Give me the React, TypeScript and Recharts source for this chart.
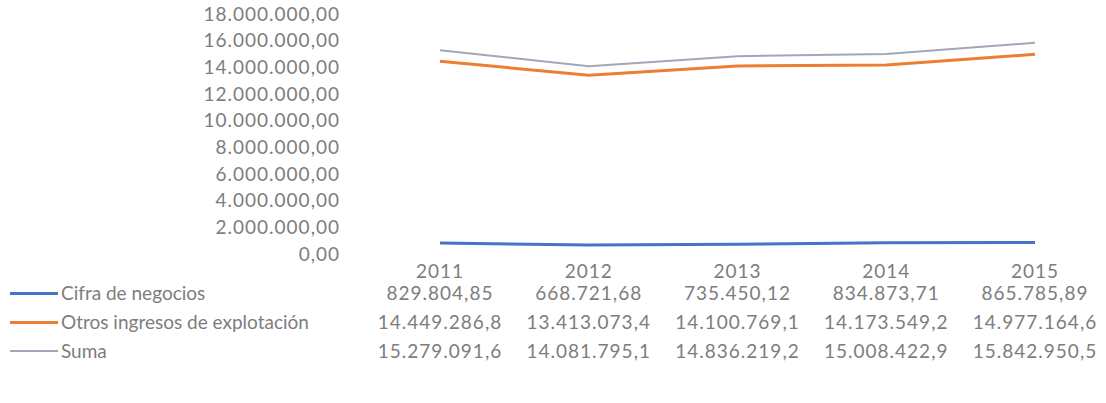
import { LineChart, Line, XAxis, YAxis } from "recharts";

const years = ["2011", "2012", "2013", "2014", "2015"];
const cifraNegocios = [829804.85, 668721.68, 735450.12, 834873.71, 865785.89];
const otrosIngresos = [14449286.8, 13413073.4, 14100769.1, 14173549.2, 14977164.6];
const suma = [15279091.6, 14081795.1, 14836219.2, 15008422.9, 15842950.5];
const yTicks = [0, 2000000, 4000000, 6000000, 8000000, 10000000, 12000000, 14000000, 16000000, 18000000];

const FONT = "Lato, 'Open Sans', sans-serif";
const TEXT = "#7d7d7d";

const series = [
  { key: "cifra", name: "Cifra de negocios", values: cifraNegocios, color: "#4472C4", width: 3, decimals: 2 },
  { key: "otros", name: "Otros ingresos de explotación", values: otrosIngresos, color: "#ED7D31", width: 3, decimals: 1 },
  { key: "suma", name: "Suma", values: suma, color: "#A5A5B8", width: 2, decimals: 1 },
];

const data = years.map((y, i) => ({
  year: y,
  cifra: cifraNegocios[i],
  otros: otrosIngresos[i],
  suma: suma[i],
}));

// spanish style number: 1.234.567,89
function fmt(v: number, decimals: number) {
  const [int, dec] = v.toFixed(decimals).split(".");
  const grouped = int.replace(/\B(?=(\d{3})+(?!\d))/g, ".");
  return dec ? grouped + "," + dec : grouped;
}

const PLOT_LEFT = 365;
const COL_W = 148.75;
const FIRST_X = 440;

export default function App() {
  return (
    <div
      style={{
        position: "absolute",
        left: 0,
        top: 0,
        width: 1106,
        height: 403,
        background: "#fff",
        fontFamily: FONT,
        color: TEXT,
        overflow: "hidden",
      }}
    >
      <LineChart
        width={1106}
        height={290}
        data={data}
        margin={{ top: 14, right: 0, bottom: 6, left: 0 }}
      >
        <XAxis
          dataKey="year"
          height={30}
          interval={0}
          axisLine={false}
          tickLine={false}
          tickSize={0}
          tickMargin={11}
          padding={{ left: FIRST_X - PLOT_LEFT, right: 1106 - (FIRST_X + 4 * COL_W) }}
          tick={{ fill: TEXT, fontSize: 19, fontFamily: FONT, letterSpacing: 1 }}
        />
        <YAxis
          width={PLOT_LEFT}
          domain={[0, 18000000]}
          ticks={yTicks}
          interval={0}
          axisLine={false}
          tickLine={false}
          tickSize={0}
          tickMargin={25}
          tickFormatter={(v: number) => fmt(v, 2)}
          tick={{ fill: TEXT, fontSize: 19, fontFamily: FONT, letterSpacing: 1 }}
        />
        {series.map((s) => (
          <Line
            key={s.key}
            dataKey={s.key}
            type="linear"
            stroke={s.color}
            strokeWidth={s.width}
            dot={false}
            isAnimationActive={false}
          />
        ))}
      </LineChart>
      {series.map((s, r) => {
        const cy = 293 + r * 29;
        return (
          <div key={s.key}>
            <div
              style={{
                position: "absolute",
                left: 10,
                top: cy - s.width / 2,
                width: 48,
                height: s.width,
                background: s.color,
              }}
            />
            <div
              style={{
                position: "absolute",
                left: 61,
                top: cy - 12,
                height: 24,
                lineHeight: "24px",
                fontSize: 19,
                whiteSpace: "nowrap",
              }}
            >
              {s.name}
            </div>
            {s.values.map((v, i) => (
              <div
                key={i}
                style={{
                  position: "absolute",
                  left: FIRST_X + i * COL_W - COL_W / 2,
                  width: COL_W,
                  top: cy - 12,
                  height: 24,
                  lineHeight: "24px",
                  textAlign: "center",
                  fontSize: 19,
                  letterSpacing: 1,
                  whiteSpace: "nowrap",
                }}
              >
                {fmt(v, s.decimals)}
              </div>
            ))}
          </div>
        );
      })}
    </div>
  );
}
